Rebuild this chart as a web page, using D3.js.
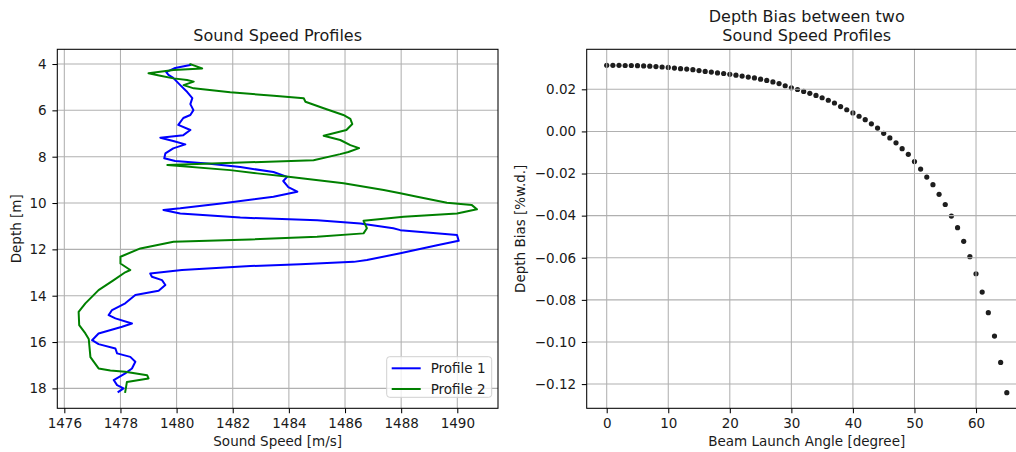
<!DOCTYPE html>
<html>
<head>
<meta charset="utf-8">
<script src="https://cdn.jsdelivr.net/npm/d3@7/dist/d3.min.js"></script>
<style>
  html, body { margin: 0; padding: 0; background: #ffffff; }
  svg { display: block; font-family: "DejaVu Sans", sans-serif; }
</style>
</head>
<body>
<svg id="chart" width="1016" height="452"></svg>
<script>
// Sound speed profile 1 (blue): speed [m/s] versus depth [m]
const profile1Speed = [1480.49,1479.95,1479.63,1479.71,1479.88,1480.13,1480.38,1480.56,1480.49,1480.60,
  1480.49,1480.24,1480.06,1480.49,1480.24,1479.42,1479.88,1480.31,1479.88,1479.60,
  1479.56,1479.95,1481.09,1482.27,1483.45,1483.94,1483.80,1483.98,1484.30,1483.45,
  1481.66,1480.13,1479.53,1480.13,1482.27,1485.01,1486.55,1487.72,1487.97,1489.99,
  1490.05,1489.28,1487.97,1486.78,1486.31,1484.41,1482.63,1480.19,1479.06,1479.12,
  1479.48,1479.60,1479.36,1478.53,1478.17,1477.70,1477.58,1477.82,1478.41,1478.06,
  1477.22,1476.99,1477.22,1477.82,1477.88,1478.35,1478.53,1478.41,1478.17,1477.76,
  1477.88,1478.11,1477.93];
const profile1Depth = [4.04,4.17,4.35,4.47,4.60,4.91,5.21,5.47,5.73,5.99,
  6.20,6.33,6.63,6.85,7.07,7.18,7.32,7.47,7.64,7.86,
  8.07,8.19,8.29,8.45,8.66,8.87,9.05,9.31,9.51,9.73,
  10.01,10.23,10.30,10.45,10.63,10.74,10.88,11.09,11.17,11.38,
  11.63,11.82,12.17,12.46,12.54,12.64,12.72,12.89,13.04,13.18,
  13.33,13.54,13.79,13.97,14.33,14.62,14.84,14.98,15.20,15.34,
  15.63,15.92,16.09,16.28,16.49,16.64,16.85,17.14,17.35,17.64,
  17.86,18.00,18.15];

// Sound speed profile 2 (green)
const profile2Speed = [1480.49,1480.91,1479.89,1479.00,1479.42,1479.89,1480.37,1480.61,1480.25,1480.61,
  1481.91,1483.46,1484.53,1484.59,1485.24,1485.94,1486.19,1486.26,1486.05,1485.24,
  1485.83,1486.19,1486.50,1486.12,1485.83,1484.88,1479.67,1481.91,1482.87,1483.99,
  1485.95,1487.38,1487.97,1488.57,1489.63,1490.52,1490.70,1489.99,1488.09,1486.66,
  1486.78,1486.66,1485.00,1482.63,1479.89,1478.71,1478.00,1478.00,1478.35,1478.17,
  1477.76,1477.22,1476.75,1476.51,1476.53,1476.75,1476.87,1476.93,1477.22,1477.64,
  1478.17,1478.95,1479.00,1478.23,1478.17];
const profile2Depth = [4.01,4.19,4.26,4.40,4.51,4.62,4.69,4.76,4.91,5.05,
  5.22,5.37,5.48,5.63,5.91,6.20,6.37,6.59,6.85,7.10,
  7.28,7.50,7.63,7.80,7.89,8.15,8.36,8.58,8.72,8.87,
  9.15,9.44,9.58,9.73,9.99,10.09,10.27,10.45,10.59,10.77,
  11.09,11.31,11.46,11.57,11.67,11.96,12.32,12.61,12.89,12.99,
  13.33,13.76,14.33,14.70,15.27,15.63,15.87,16.65,17.14,17.23,
  17.28,17.43,17.57,17.72,18.15];

// Depth bias between the two profiles per beam launch angle
const launchAngles = [0,1,2,3,4,5,6,7,8,9,10,11,12,13,14,15,16,17,18,19,20,21,22,23,24,25,26,27,28,29,
  30,31,32,33,34,35,36,37,38,39,40,41,42,43,44,45,46,47,48,49,50,51,52,53,54,55,56,57,58,59,
  60,61,62,63,64,65];
const depthBias = [0.0314,0.0314,0.0314,0.0313,0.0313,0.0312,0.0311,0.0310,0.0308,0.0306,
  0.0304,0.0301,0.0298,0.0296,0.0293,0.0289,0.0285,0.0282,0.0278,0.0275,
  0.0271,0.0267,0.0263,0.0258,0.0254,0.0248,0.0242,0.0235,0.0227,0.0217,
  0.0207,0.0199,0.0190,0.0181,0.0171,0.0160,0.0148,0.0135,0.0118,0.0103,
  0.0088,0.0072,0.0056,0.0036,0.0016,-0.0009,-0.0031,-0.0054,-0.0082,-0.0109,
  -0.0143,-0.0179,-0.0217,-0.0253,-0.0299,-0.0347,-0.0402,-0.0457,-0.0522,-0.0595,
  -0.0676,-0.0763,-0.0861,-0.0972,-0.1097,-0.1241];

// Tick values
const speedTicks = [1476,1478,1480,1482,1484,1486,1488,1490];
const depthTicks = [4,6,8,10,12,14,16,18];
const angleTicks = [0,10,20,30,40,50,60];
const biasTicks = [0.02,0.00,-0.02,-0.04,-0.06,-0.08,-0.10,-0.12];

const seriesNames = ["Profile 1", "Profile 2"];
const seriesColors = ["#0000ff", "#008000"];

const svg = d3.select("#chart");
svg.append("rect").attr("width", 1016).attr("height", 452).attr("fill", "#ffffff");

const FONT = 13.5, TITLE_FONT = 16;
const TICK_LEN = 4.9, TICK_PAD = 4.9;
const GRID = "#b0b0b0";
const TEXT = "#1a1a1a";

// Panel geometry
const plotTop = 49.3, plotBottom = 408.3;
const L = { left: 57.3, right: 498 };
const R = { left: 586.7, right: 1026.8 };

function styleAxis(g) {
  g.select(".domain").remove();
  g.selectAll(".tick line").attr("stroke", "#000").attr("stroke-width", 1.05);
  g.selectAll(".tick text").attr("fill", TEXT).style("font-size", FONT + "px")
    .style("font-family", '"DejaVu Sans", sans-serif');
}

function frame(x0, x1) {
  svg.append("rect").attr("x", x0).attr("y", plotTop).attr("width", x1 - x0).attr("height", plotBottom - plotTop)
    .attr("fill", "none").attr("stroke", "#000").attr("stroke-width", 1.05);
}

// ---------- Left panel: sound speed profiles ----------
const xS = d3.scaleLinear().domain([1475.75, 1491.45]).range([L.left, L.right]);
const yD = d3.scaleLinear().domain([3.365, 18.86]).range([plotTop, plotBottom]);

svg.append("clipPath").attr("id", "clipL").append("rect")
  .attr("x", L.left).attr("y", plotTop).attr("width", L.right - L.left).attr("height", plotBottom - plotTop);

const gridL = svg.append("g").attr("clip-path", "url(#clipL)");
gridL.selectAll(".vx").data(speedTicks).join("line")
  .attr("x1", d => xS(d)).attr("x2", d => xS(d)).attr("y1", plotTop).attr("y2", plotBottom)
  .attr("stroke", GRID).attr("stroke-width", 1.05);
gridL.selectAll(".hy").data(depthTicks).join("line")
  .attr("x1", L.left).attr("x2", L.right).attr("y1", d => yD(d)).attr("y2", d => yD(d))
  .attr("stroke", GRID).attr("stroke-width", 1.05);

const profiles = [
  profile1Speed.map((s, i) => [s, profile1Depth[i]]),
  profile2Speed.map((s, i) => [s, profile2Depth[i]])
];
const line = d3.line().x(d => xS(d[0])).y(d => yD(d[1]));
const linesL = svg.append("g").attr("clip-path", "url(#clipL)");
profiles.forEach((p, i) => {
  linesL.append("path").datum(p).attr("d", line).attr("fill", "none")
    .attr("stroke", seriesColors[i]).attr("stroke-width", 2)
    .attr("stroke-linejoin", "round").attr("stroke-linecap", "square");
});

svg.append("g").attr("transform", `translate(0,${plotBottom})`)
  .call(d3.axisBottom(xS).tickValues(speedTicks).tickFormat(d3.format("d")).tickSize(TICK_LEN).tickPadding(TICK_PAD))
  .call(styleAxis);
svg.append("g").attr("transform", `translate(${L.left},0)`)
  .call(d3.axisLeft(yD).tickValues(depthTicks).tickFormat(d3.format("d")).tickSize(TICK_LEN).tickPadding(TICK_PAD + 0.8))
  .call(styleAxis);
frame(L.left, L.right);

// Legend
const lg = svg.append("g");
lg.append("rect").attr("x", 386.7).attr("y", 356.7).attr("width", 105).attr("height", 40.6)
  .attr("rx", 3).attr("fill", "#ffffff").attr("fill-opacity", 0.8)
  .attr("stroke", "#d0d0d0").attr("stroke-width", 1);
seriesNames.forEach((name, i) => {
  const yy = 368.3 + i * 20.7;
  lg.append("line").attr("x1", 391.7).attr("x2", 420.7).attr("y1", yy).attr("y2", yy)
    .attr("stroke", seriesColors[i]).attr("stroke-width", 2);
  lg.append("text").attr("x", 430.7).attr("y", yy + 4.9).text(name)
    .attr("fill", TEXT).style("font-size", FONT + "px");
});

svg.append("text").attr("x", (L.left + L.right) / 2).attr("y", 40.7).attr("text-anchor", "middle")
  .attr("fill", TEXT).style("font-size", TITLE_FONT + "px").text("Sound Speed Profiles");
svg.append("text").attr("x", (L.left + L.right) / 2).attr("y", 446).attr("text-anchor", "middle")
  .attr("fill", TEXT).style("font-size", FONT + "px").text("Sound Speed [m/s]");
svg.append("text").attr("transform", `translate(20.8,${(plotTop + plotBottom) / 2}) rotate(-90)`)
  .attr("text-anchor", "middle").attr("fill", TEXT).style("font-size", FONT + "px").text("Depth [m]");

// ---------- Right panel: depth bias ----------
const xA = d3.scaleLinear().domain([-3.25, 68.25]).range([R.left, R.right]);
const yB = d3.scaleLinear().domain([0.039, -0.1315]).range([plotTop, plotBottom]);

svg.append("clipPath").attr("id", "clipR").append("rect")
  .attr("x", R.left).attr("y", plotTop).attr("width", R.right - R.left).attr("height", plotBottom - plotTop);

const dots = svg.append("g").attr("clip-path", "url(#clipR)");
dots.selectAll("circle").data(launchAngles.map((a, i) => [a, depthBias[i]])).join("circle")
  .attr("cx", d => xA(d[0])).attr("cy", d => yB(d[1])).attr("r", 2.6)
  .attr("fill", "#1e1e1e");

// grid sits above the scatter markers
const gridR = svg.append("g").attr("clip-path", "url(#clipR)");
gridR.selectAll(".vx").data(angleTicks).join("line")
  .attr("x1", d => xA(d)).attr("x2", d => xA(d)).attr("y1", plotTop).attr("y2", plotBottom)
  .attr("stroke", GRID).attr("stroke-width", 1.05);
gridR.selectAll(".hy").data(biasTicks).join("line")
  .attr("x1", R.left).attr("x2", R.right).attr("y1", d => yB(d)).attr("y2", d => yB(d))
  .attr("stroke", GRID).attr("stroke-width", 1.05);

svg.append("g").attr("transform", `translate(0,${plotBottom})`)
  .call(d3.axisBottom(xA).tickValues(angleTicks).tickFormat(d3.format("d")).tickSize(TICK_LEN).tickPadding(TICK_PAD))
  .call(styleAxis);
svg.append("g").attr("transform", `translate(${R.left},0)`)
  .call(d3.axisLeft(yB).tickValues(biasTicks).tickFormat(d3.format(".2f")).tickSize(TICK_LEN).tickPadding(TICK_PAD + 0.8))
  .call(styleAxis);
frame(R.left, R.right);

const rc = (R.left + R.right) / 2;
svg.append("text").attr("x", rc).attr("y", 22).attr("text-anchor", "middle")
  .attr("fill", TEXT).style("font-size", TITLE_FONT + "px").text("Depth Bias between two");
svg.append("text").attr("x", rc).attr("y", 40.7).attr("text-anchor", "middle")
  .attr("fill", TEXT).style("font-size", TITLE_FONT + "px").text("Sound Speed Profiles");
svg.append("text").attr("x", rc).attr("y", 446).attr("text-anchor", "middle")
  .attr("fill", TEXT).style("font-size", FONT + "px").text("Beam Launch Angle [degree]");
svg.append("text").attr("transform", `translate(524.5,${(plotTop + plotBottom) / 2}) rotate(-90)`)
  .attr("text-anchor", "middle").attr("fill", TEXT).style("font-size", FONT + "px").text("Depth Bias [%w.d.]");
</script>
</body>
</html>
